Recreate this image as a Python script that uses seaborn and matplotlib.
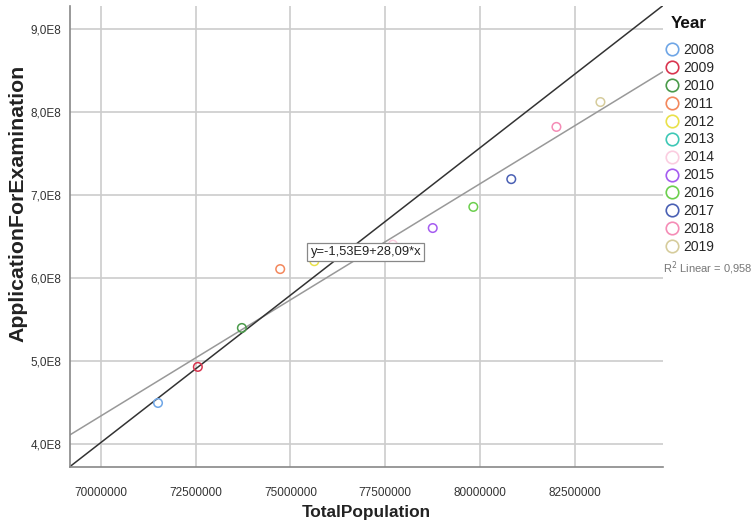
import pandas as pd
import numpy as np
import matplotlib
matplotlib.use("Agg")
import matplotlib.pyplot as plt
from matplotlib.lines import Line2D
from matplotlib.ticker import FuncFormatter
import seaborn as sns

# Data
years = [2008, 2009, 2010, 2011, 2012, 2013, 2014, 2015, 2016, 2017, 2018, 2019]
total_population = [71.51e6, 72.56e6, 73.72e6, 74.73e6, 75.63e6, 76.67e6,
                    77.70e6, 78.75e6, 79.82e6, 80.82e6, 82.01e6, 83.17e6]
applications = [4.49e8, 4.925e8, 5.395e8, 6.105e8, 6.20e8, 6.30e8,
                6.40e8, 6.60e8, 6.855e8, 7.19e8, 7.82e8, 8.12e8]
year_colors = ["#6fa6e6", "#d9354f", "#4a9a4a", "#f3875c", "#e9e14a", "#3ec8b6",
               "#fbcde0", "#a55cf0", "#6ccf4e", "#4a60b4", "#f58cb6", "#d6cc9c"]
equation_label = "y=-1,53E9+28,09*x"
r2_label = "R$^2$ Linear = 0,958"

df = pd.DataFrame({"Year": years, "TotalPopulation": total_population,
                   "ApplicationForExamination": applications})

sns.set_style("white")
plt.rcParams["font.family"] = ["Liberation Sans", "DejaVu Sans"]

fig = plt.figure(figsize=(7.55, 5.26), dpi=100)
ax = fig.add_axes([0.0927, 0.113, 0.785, 0.876])

ax.set_xlim(69.19e6, 84.81e6)
ax.set_ylim(3.723e8, 9.281e8)

# grid
ax.set_xticks([70e6, 72.5e6, 75e6, 77.5e6, 80e6, 82.5e6])
ax.set_yticks([4e8, 5e8, 6e8, 7e8, 8e8, 9e8])
ax.grid(True, color="#cccccc", linewidth=1.2)
ax.set_axisbelow(True)

# fit line across the whole axis
sns.regplot(data=df, x="TotalPopulation", y="ApplicationForExamination", scatter=False,
            ci=None, truncate=False, ax=ax, line_kws={"color": "#999999", "lw": 1.1})

# diagonal reference line
ax.plot([0, 1], [0, 1], transform=ax.transAxes, color="#333333", lw=1.1)

sns.scatterplot(data=df, x="TotalPopulation", y="ApplicationForExamination", hue="Year",
                palette=year_colors, s=38, ax=ax, legend=False, zorder=3)
coll = ax.collections[-1]
coll.set_edgecolors(coll.get_facecolors())
coll.set_facecolors("none")
coll.set_linewidths(1.1)

ax.set_xlim(69.19e6, 84.81e6)
ax.set_ylim(3.723e8, 9.281e8)

ax.text(75.53e6, 6.31e8, equation_label, ha="left", va="center", fontsize=9.3,
        color="#222222", zorder=5,
        bbox=dict(boxstyle="square,pad=0.25", fc="white", ec="#888888", lw=0.9))

ax.xaxis.set_major_formatter(FuncFormatter(lambda v, p: f"{v:.0f}"))
ax.yaxis.set_major_formatter(FuncFormatter(lambda v, p: f"{v/1e8:.1f}E8".replace(".", ",")))
ax.tick_params(axis="both", labelsize=8.5, colors="#333333", length=0, pad=6)
ax.tick_params(axis="x", pad=15)

for s in ["top", "right"]:
    ax.spines[s].set_visible(False)
for s in ["left", "bottom"]:
    ax.spines[s].set_color("#888888")
    ax.spines[s].set_linewidth(1.2)

ax.set_xlabel("TotalPopulation", fontsize=12.4, fontweight="bold", color="#222222")
ax.set_ylabel("ApplicationForExamination", fontsize=15.3, fontweight="bold", color="#222222")
ax.xaxis.set_label_coords(0.5, -0.084)
ax.yaxis.set_label_coords(-0.071, 0.571)

handles = [Line2D([], [], marker="o", linestyle="", markersize=9, markerfacecolor="none",
                  markeredgecolor=c, markeredgewidth=1.2) for c in year_colors]
leg = ax.legend(handles, [str(y) for y in years], loc="upper left",
                bbox_to_anchor=(0.9895, 0.932), frameon=False, fontsize=10,
                handletextpad=0.0, labelspacing=0.285, borderaxespad=0.0, handlelength=1.5)

fig.text(671 / 755, 1 - 23 / 526, "Year", fontsize=12.3, fontweight="bold",
         color="#111111", va="center", ha="left")
fig.text(663 / 755, 1 - 268 / 526, r2_label, fontsize=8, color="#777777", va="center")

fig.savefig("out.png", dpi=100)
